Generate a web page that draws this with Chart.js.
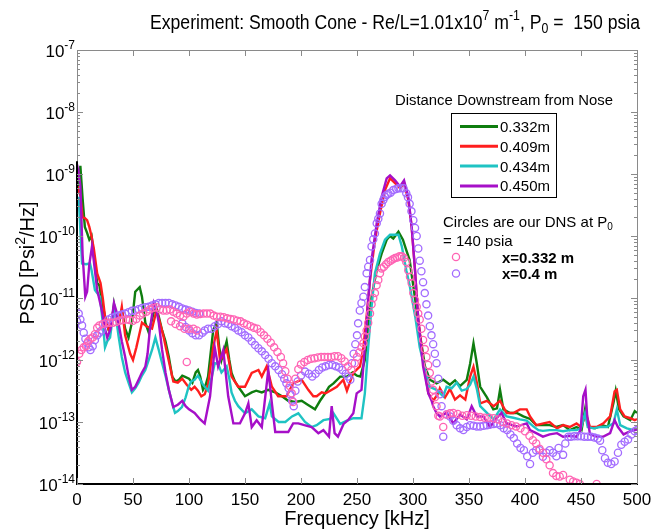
<!DOCTYPE html>
<html>
<head>
<meta charset="utf-8">
<script src="https://cdn.jsdelivr.net/npm/chart.js@4.4.1/dist/chart.umd.min.js"></script>
<style>
  html, body { margin: 0; padding: 0; background: #fff; }
  #wrap { width: 663px; height: 530px; }
</style>
</head>
<body>
<div id="wrap"><canvas id="psdChart" width="663" height="530"></canvas></div>
<script>
// ---- data (frequency in kHz, PSD in Psi^2/Hz) ----

// experiment, x = 0.332 m (green)
const f332 = [
  0, 3, 5, 7, 9, 11, 13, 15, 18, 20,
  22, 25, 28, 31, 33, 35, 37, 40, 43, 46,
  49, 52, 56, 58, 61, 64, 67, 70, 73, 76,
  79, 82, 85, 88, 91, 94, 96, 100, 103, 106,
  108, 110, 112.5, 115, 117, 121.6, 124.7, 127, 129, 133.6,
  136, 138, 141, 144, 150, 156, 160, 165, 170.6, 177,
  183, 188.6, 194.6, 200.6, 206, 212.5, 217, 221, 225, 229,
  235, 241, 246, 250, 253, 257, 260, 263, 267.6, 272,
  276.5, 279.5, 282.4, 287, 291, 294, 297, 302, 306, 310.7,
  315, 321, 327, 333, 337.5, 342, 348, 351, 354, 357,
  360, 366, 371.7, 375, 377.7, 380.7, 386.6, 392.6, 398.5, 404.5,
  410, 416, 422, 428, 434, 440, 446, 450.5, 453.6, 456.5,
  462.5, 468.5, 474, 478.9, 481, 484, 488, 494, 498, 500
];
const psd332 = [
  5.0e-10, 1.35e-9, 4.0e-10, 1.4e-10, 1.12e-10, 8.7e-11, 1.0e-10, 5.0e-11, 1.74e-11, 1.6e-11,
  9.3e-12, 5.0e-12, 3.2e-12, 4.0e-12, 7.9e-12, 5.0e-12, 3.5e-12, 6.3e-12, 3.2e-12, 2.3e-12,
  4.0e-12, 1.26e-11, 1.5e-11, 1.05e-11, 4.0e-12, 2.8e-12, 4.5e-12, 7.8e-12, 5.0e-12, 3.0e-12,
  2.0e-12, 1.12e-12, 5.4e-13, 4.5e-13, 4.8e-13, 5.6e-13, 5.4e-13, 5.0e-13, 4.3e-13, 6.3e-13,
  6.9e-13, 5.4e-13, 3.3e-13, 4.0e-13, 5.4e-13, 3.0e-12, 4.0e-12, 1.6e-12, 1.0e-12, 2.0e-12,
  1.0e-12, 6.2e-13, 4.5e-13, 3.7e-13, 2.6e-13, 3.0e-13, 3.2e-13, 3.0e-13, 3.3e-13, 3.0e-13,
  2.6e-13, 2.2e-13, 2.1e-13, 2.2e-13, 1.9e-13, 1.6e-13, 2.2e-13, 2.8e-13, 3.7e-13, 4.2e-13,
  5.4e-13, 5.4e-13, 6.3e-13, 5.6e-13, 5.4e-13, 1.0e-12, 3.5e-12, 1.05e-11, 2.8e-11, 5.2e-11,
  8.7e-11, 1.0e-10, 9.1e-11, 1.17e-10, 8.7e-11, 5.9e-11, 4.1e-11, 9.3e-12, 2.7e-12, 7.9e-13,
  4.8e-13, 4.2e-13, 4.8e-13, 4.0e-13, 4.7e-13, 3.8e-13, 4.8e-13, 8.7e-13, 1.86e-12, 8.7e-13,
  3.7e-13, 2.5e-13, 1.6e-13, 1.66e-13, 3.3e-13, 1.6e-13, 1.4e-13, 1.4e-13, 1.23e-13, 1.12e-13,
  8.9e-14, 8.9e-14, 8.9e-14, 8.3e-14, 8.9e-14, 7.4e-14, 8.3e-14, 7.4e-14, 1.6e-13, 8.3e-14,
  7.9e-14, 8.9e-14, 8.3e-14, 2.0e-13, 3.2e-13, 1.6e-13, 1.23e-13, 1.07e-13, 1.5e-13, 1.4e-13
];

// experiment, x = 0.409 m (red)
const f409 = [
  0.5, 3, 5, 7, 9, 11, 13, 15, 18, 21,
  23, 25, 28, 31, 33, 35, 37, 40, 43, 47.5,
  50, 53, 55, 58, 62, 67, 71, 74, 77, 80,
  83, 86, 90, 94, 98, 102, 105, 108, 111, 114,
  117, 121.6, 124.7, 127.7, 130, 133.6, 136, 138, 144, 150,
  156, 162, 165, 169.4, 174, 179.6, 187, 193, 200.6, 206.5,
  211, 214, 218.5, 222, 226, 232, 237.8, 241, 246.7, 252.7,
  255.7, 258.6, 261.6, 266, 270.5, 275, 279.5, 284, 288.4, 292,
  295.8, 298.8, 301.8, 304.7, 309, 313.7, 318, 322.6, 324, 328.6,
  333, 337.5, 342, 346.7, 351, 354, 357, 360, 366, 372,
  377.7, 383.6, 389.6, 395.5, 401.5, 404.5, 410, 416.5, 422, 428.6,
  434, 440, 446, 450, 454.5, 458, 464, 470, 476, 480,
  482, 485, 489, 494, 498, 500
];
const psd409 = [
  6.3e-10, 4.5e-10, 2.0e-10, 1.95e-10, 1.8e-10, 1.4e-10, 9.8e-11, 6.3e-11, 2.5e-11, 1.74e-11,
  1.0e-11, 5.0e-12, 3.2e-12, 4.5e-12, 7.1e-12, 4.5e-12, 3.5e-12, 7.2e-12, 2.5e-12, 1.26e-12,
  1.0e-12, 1.6e-12, 2.3e-12, 4.0e-12, 3.5e-12, 3.2e-12, 6.3e-12, 4.0e-12, 2.5e-12, 1.4e-12,
  7.9e-13, 4.5e-13, 4.3e-13, 5.0e-13, 4.0e-13, 3.3e-13, 3.7e-13, 3.2e-13, 2.6e-13, 2.8e-13,
  4.0e-13, 1.6e-12, 3.0e-12, 1.0e-12, 1.12e-12, 1.5e-12, 8.9e-13, 5.4e-13, 3.7e-13, 3.7e-13,
  6.2e-13, 6.9e-13, 5.4e-13, 7.9e-13, 3.7e-13, 2.6e-13, 2.6e-13, 4.2e-13, 4.8e-13, 3.3e-13,
  2.6e-13, 2.6e-13, 3.0e-13, 2.9e-13, 3.2e-13, 3.7e-13, 4.8e-13, 3.2e-13, 6.2e-13, 7.9e-13,
  1.6e-12, 5.0e-12, 1.95e-11, 8.7e-11, 2.3e-10, 5.5e-10, 8.5e-10, 7.1e-10, 5.9e-10, 7.1e-10,
  3.8e-10, 1.4e-10, 2.8e-11, 4.5e-12, 1.0e-12, 2.9e-13, 2.2e-13, 2.9e-13, 3.5e-13, 2.5e-13,
  3.4e-13, 2.3e-13, 2.7e-13, 2.3e-13, 5.4e-13, 7.8e-13, 4.3e-13, 2.0e-13, 2.2e-13, 1.8e-13,
  2.2e-13, 1.4e-13, 1.4e-13, 1.6e-13, 1.6e-13, 1.23e-13, 8.9e-14, 9.5e-14, 1.0e-13, 7.9e-14,
  8.9e-14, 8.3e-14, 9.5e-14, 8.3e-14, 1.38e-13, 8.3e-14, 8.3e-14, 9.5e-14, 1.23e-13, 3.1e-13,
  3.3e-13, 1.6e-13, 1.23e-13, 1.15e-13, 1.07e-13, 1.12e-13
];

// experiment, x = 0.434 m (cyan)
const f434 = [
  1.5, 4.5, 8, 11.6, 13, 16, 20.5, 23, 25, 27,
  29.5, 32, 34, 37, 40, 43, 46, 49, 52, 55,
  58, 61, 64, 67, 70, 73, 76, 79, 82, 85,
  87.5, 90, 93.7, 97, 99.7, 102, 105, 108, 112.5, 117,
  120, 123, 126, 129, 133.6, 136, 138, 141, 144, 150,
  156, 162, 168, 172, 174, 180, 186, 192, 197.6, 203.6,
  209.5, 214, 220, 226, 229, 235, 241, 246.7, 254, 257,
  260, 263, 266, 270.5, 275, 279.5, 284, 287, 290, 294,
  297, 302, 306, 310.7, 315, 321, 327, 330, 334.5, 339,
  343.5, 348, 351, 354, 357, 360, 366, 372, 377.7, 383.6,
  389.6, 395.5, 401.5, 407.4, 412, 416, 422, 428, 434, 440,
  446, 450, 453.6, 456, 461, 467, 473, 479, 482, 485,
  491, 497, 500
];
const psd434 = [
  4.3e-10, 3.6e-11, 3.5e-11, 3.6e-11, 2.8e-11, 1.35e-11, 1.05e-11, 4.0e-12, 1.6e-12, 2.0e-12,
  2.3e-12, 5.0e-12, 6.3e-12, 2.5e-12, 1.12e-12, 6.3e-13, 4.3e-13, 3.0e-13, 3.5e-13, 4.3e-13,
  5.6e-13, 6.9e-13, 1.0e-12, 1.45e-12, 2.3e-12, 1.45e-12, 8.9e-13, 5.6e-13, 3.3e-13, 2.0e-13,
  1.4e-13, 1.5e-13, 1.74e-13, 2.5e-13, 3.7e-13, 4.5e-13, 4.8e-13, 5.6e-13, 4.0e-13, 3.2e-13,
  5.0e-13, 8.9e-13, 8.7e-13, 6.3e-13, 7.9e-13, 5.0e-13, 3.0e-13, 2.2e-13, 1.8e-13, 1.38e-13,
  1.6e-13, 1.23e-13, 1.15e-13, 2.0e-13, 1.23e-13, 1.0e-13, 1.0e-13, 1.23e-13, 1.38e-13, 1.0e-13,
  8.3e-14, 8.9e-14, 1.07e-13, 1.12e-13, 1.38e-13, 9.3e-14, 1.05e-13, 1.15e-13, 1.15e-13, 2.9e-13,
  1.6e-12, 7.2e-12, 2.5e-11, 5.2e-11, 8.7e-11, 1.05e-10, 1.05e-10, 1.05e-10, 6.8e-11, 2.8e-11,
  1.6e-11, 5.0e-12, 1.6e-12, 7.1e-13, 3.7e-13, 3.3e-13, 2.6e-13, 3.7e-13, 3.5e-13, 4.3e-13,
  3.2e-13, 3.4e-13, 4.0e-13, 5.4e-13, 3.4e-13, 1.8e-13, 1.4e-13, 1.1e-13, 1.6e-13, 1.23e-13,
  1.17e-13, 1.1e-13, 1.05e-13, 8.5e-14, 7.4e-14, 7.2e-14, 7.4e-14, 7.4e-14, 7.1e-14, 7.4e-14,
  7.4e-14, 7.9e-14, 1.38e-13, 8.3e-14, 7.9e-14, 8.3e-14, 8.3e-14, 9.5e-14, 1.6e-13, 8.9e-14,
  7.9e-14, 7.4e-14, 7.6e-14
];

// experiment, x = 0.450 m (purple)
const f450 = [
  0.5, 1.5, 3, 5, 7.4, 9, 11, 13.4, 15, 18,
  22, 25, 27, 30, 33, 35, 37, 40, 43, 46,
  49, 52, 55, 58, 61, 63, 65, 68.5, 71, 73,
  76, 79, 82, 86, 90, 94, 97, 100, 105, 110,
  114, 118.8, 123, 126, 130.6, 135, 139.6, 145.5, 150, 153,
  156, 160.4, 165, 170.8, 174, 177, 182, 188.6, 193, 197.6,
  203, 209.5, 215.5, 220, 225, 227.4, 230, 233, 238, 242,
  246.7, 249.7, 254, 257, 260, 263, 267.6, 272, 276.5, 279.5,
  284, 288.4, 292, 295.8, 298.8, 301.8, 304.7, 309, 313.7, 316.6,
  318, 321, 324, 330, 336, 342, 348, 352.4, 357, 363,
  368.8, 374, 379, 383.6, 392.6, 401.5, 404.5, 410, 416, 422,
  428.6, 434, 440, 446, 449.6, 452, 454, 455.5, 458, 464,
  470, 476, 480, 483, 488, 494, 498, 500
];
const psd450 = [
  7.9e-10, 1.05e-9, 6.3e-10, 5.0e-11, 1.05e-11, 1.26e-11, 3.5e-11, 6.8e-11, 4.0e-11, 1.35e-11,
  6.5e-12, 3.2e-12, 2.3e-12, 3.2e-12, 8.3e-12, 6.3e-12, 4.0e-12, 2.0e-12, 1.12e-12, 5.6e-13,
  3.3e-13, 3.7e-13, 4.8e-13, 6.3e-13, 7.8e-13, 1.26e-12, 3.0e-12, 8.3e-12, 6.3e-12, 4.0e-12,
  1.45e-12, 6.3e-13, 3.3e-13, 1.74e-13, 1.9e-13, 2.2e-13, 1.8e-13, 1.6e-13, 1.4e-13, 1.1e-13,
  9.5e-14, 2.6e-13, 1.6e-12, 7.9e-13, 1.45e-12, 2.6e-13, 9.5e-14, 9.5e-14, 1.38e-13, 2.0e-13,
  8.3e-14, 1.07e-13, 8.3e-14, 6.9e-13, 2.0e-13, 6.9e-14, 6.9e-14, 6.9e-14, 9.5e-14, 9.5e-14,
  8.9e-14, 8.3e-14, 6.6e-14, 7.4e-14, 5.8e-14, 1.8e-13, 6.6e-14, 5.8e-14, 9.3e-14, 1.07e-13,
  1.38e-13, 2.9e-13, 3.3e-13, 1.6e-12, 9.3e-12, 4.1e-11, 1.6e-10, 4.3e-10, 8.5e-10, 9.5e-10,
  7.9e-10, 6.3e-10, 7.9e-10, 4.3e-10, 1.4e-10, 2.8e-11, 4.5e-12, 7.9e-13, 2.9e-13, 2.2e-13,
  1.8e-13, 1.4e-13, 1.23e-13, 1.4e-13, 9.5e-14, 1.32e-13, 1.1e-13, 1.8e-13, 1.23e-13, 1.23e-13,
  8.3e-14, 1.12e-13, 1.4e-13, 9.5e-14, 8.5e-14, 9.5e-14, 7.4e-14, 6.6e-14, 5.8e-14, 6.3e-14,
  6.6e-14, 5.8e-14, 6.0e-14, 5.8e-14, 7.4e-14, 2.6e-13, 3.3e-13, 1.26e-13, 6.3e-14, 5.8e-14,
  5.8e-14, 6.6e-14, 1.07e-13, 8.3e-14, 6.3e-14, 7.1e-14, 7.4e-14, 7.6e-14
];

// DNS at P0 = 140 psia, x = 0.332 m (pink circles)
const dnsF332 = [
  0, 2, 4, 6, 8, 10, 12, 14, 16, 18,
  20, 23, 26, 29, 32, 35, 38, 41, 44, 47,
  50, 53, 56, 59, 62, 65, 68, 71, 74, 77,
  80, 83, 86, 89, 92, 95, 98, 101, 104, 107,
  110, 113, 116, 119, 122, 125, 128, 131, 134, 137,
  140, 143, 146, 149, 152, 155, 158, 161, 164, 167,
  170, 173, 176, 179, 182, 184, 186, 188, 190, 191.7,
  193, 195, 197.6, 200, 203, 206, 209, 212, 215, 218,
  221, 224, 227, 230, 233, 236, 239, 242, 245, 248,
  250, 252, 254, 255.7, 257, 258.6, 260, 261.6, 263, 264.5,
  266, 267.5, 269, 270.5, 272, 274, 276, 278, 280, 282,
  284, 286, 288, 290, 292, 294, 295.8, 297.3, 298.8, 300.3,
  301.8, 303.3, 304.7, 306, 307.5, 309, 310.5, 312, 313.5, 315,
  316.5, 318, 319.5, 321, 322.6, 324, 327, 330, 333, 336,
  340, 344, 348, 352, 356, 360, 364, 368, 372, 376,
  380, 384, 388, 392, 396, 400, 404, 407, 410, 413,
  416, 419, 422, 425, 428, 431, 434, 440, 443, 446,
  449, 464,
  84, 88, 92, 96, 100, 104, 107, 98
];
const dnsPsd332 = [
  9.3e-13, 1.26e-12, 1.45e-12, 1.6e-12, 1.66e-12, 2.0e-12, 2.2e-12, 2.3e-12, 2.6e-12, 3.3e-12,
  3.6e-12, 3.8e-12, 4.0e-12, 4.0e-12, 4.0e-12, 4.1e-12, 4.3e-12, 4.4e-12, 4.5e-12, 4.4e-12,
  4.3e-12, 4.6e-12, 5.2e-12, 5.6e-12, 6.0e-12, 6.5e-12, 6.9e-12, 7.1e-12, 6.6e-12, 6.3e-12,
  6.3e-12, 6.5e-12, 6.0e-12, 5.6e-12, 5.2e-12, 5.0e-12, 5.6e-12, 6.0e-12, 5.6e-12, 5.4e-12,
  5.5e-12, 5.6e-12, 5.6e-12, 5.6e-12, 5.2e-12, 5.0e-12, 5.0e-12, 4.9e-12, 4.7e-12, 4.6e-12,
  4.5e-12, 4.3e-12, 4.2e-12, 3.9e-12, 3.7e-12, 3.5e-12, 3.3e-12, 3.2e-12, 2.8e-12, 2.5e-12,
  2.2e-12, 1.9e-12, 1.6e-12, 1.35e-12, 1.12e-12, 8.9e-13, 6.6e-13, 5.0e-13, 3.8e-13, 2.9e-13,
  2.1e-13, 5.0e-13, 7.1e-13, 8.5e-13, 9.3e-13, 1.0e-12, 1.05e-12, 1.07e-12, 1.1e-12, 1.12e-12,
  1.12e-12, 1.12e-12, 1.12e-12, 1.15e-12, 1.15e-12, 1.07e-12, 9.5e-13, 7.9e-13, 6.9e-13, 8.9e-13,
  1.12e-12, 1.32e-12, 1.6e-12, 1.86e-12, 2.4e-12, 3.0e-12, 4.0e-12, 5.6e-12, 7.9e-12, 1.0e-11,
  1.2e-11, 1.6e-11, 1.95e-11, 2.5e-11, 3.0e-11, 3.2e-11, 3.5e-11, 3.8e-11, 4.0e-11, 4.2e-11,
  4.4e-11, 4.5e-11, 4.7e-11, 4.7e-11, 4.4e-11, 3.8e-11, 2.8e-11, 2.2e-11, 1.74e-11, 1.2e-11,
  9.3e-12, 7.2e-12, 5.6e-12, 4.5e-12, 3.2e-12, 2.1e-12, 1.5e-12, 1.12e-12, 8.3e-13, 6.2e-13,
  4.5e-13, 3.3e-13, 2.5e-13, 1.8e-13, 1.26e-13, 1.23e-13, 8.3e-14, 1.32e-13, 1.38e-13, 1.4e-13,
  1.35e-13, 1.26e-13, 1.29e-13, 1.26e-13, 1.23e-13, 1.2e-13, 1.17e-13, 1.17e-13, 1.15e-13, 1.1e-13,
  1.0e-13, 9.5e-14, 8.9e-14, 8.5e-14, 7.9e-14, 7.1e-14, 6.0e-14, 5.1e-14, 4.5e-14, 3.7e-14,
  3.2e-14, 2.5e-14, 2.0e-14, 1.5e-14, 1.35e-14, 1.32e-14, 1.4e-14, 1.17e-14, 1.1e-14, 1.05e-14,
  1.0e-14, 1.0e-14,
  4.2e-12, 3.8e-12, 3.5e-12, 3.2e-12, 3.2e-12, 3.2e-12, 3.0e-12, 9.3e-13
];

// DNS at P0 = 140 psia, x = 0.4 m (violet circles)
const dnsF400 = [
  0, 1.5, 3, 4.5, 6, 7.5, 9, 10.5, 12, 14,
  16, 18, 20, 22, 25, 28, 31, 34, 37, 40,
  43, 46, 49, 52, 55, 58, 61, 64, 67, 70,
  73, 76, 79, 82, 85, 88, 91, 94, 97, 100,
  103, 106, 109,
  94, 97, 100, 103, 106, 109, 112, 114, 117, 120,
  123, 126, 129, 132, 135, 138, 141, 144, 147, 150,
  153, 156, 159, 162, 165, 168, 171, 174, 177, 180,
  183, 185, 187, 189, 190.5, 192, 193.5, 195, 197, 200,
  203.6, 207, 210, 213, 216, 219, 222, 225, 228, 231,
  234, 237, 240, 242, 244, 245.5, 247, 248.5, 250, 251,
  252.5, 254, 255.7, 257, 258.6, 260, 261.6, 263, 264.5, 266,
  267.6, 269, 270.5, 272, 273.5, 275, 276.5, 278, 280, 282.4,
  285, 287, 289, 291.5, 294, 295.5, 297, 298.6, 300.3, 301.8,
  303.3, 304.7, 306, 307.5, 309, 310.5, 312, 313.5, 315, 316.5,
  318, 319.5, 321, 322.6, 324, 325.5, 327, 330, 333, 336,
  339, 342, 345, 348, 351, 354, 357, 360, 363, 366,
  369, 372, 375, 378, 381, 384, 387, 390, 393, 396,
  399, 402, 404.5, 407, 410, 413, 416, 419, 422, 425,
  428, 430, 434, 436, 438.7, 441, 444, 447, 450, 453,
  456, 459, 462, 465, 467, 469, 471.4, 474, 477, 480,
  483, 486, 489, 492, 495, 498, 500
];
const dnsPsd400 = [
  4.2e-12, 5.6e-12, 4.5e-12, 3.6e-12, 2.75e-12, 2.2e-12, 1.86e-12, 1.6e-12, 1.45e-12, 1.66e-12,
  2.1e-12, 2.5e-12, 2.75e-12, 3.0e-12, 3.8e-12, 4.5e-12, 4.8e-12, 5.0e-12, 5.2e-12, 5.4e-12,
  5.6e-12, 5.9e-12, 6.2e-12, 6.3e-12, 6.6e-12, 6.9e-12, 7.1e-12, 7.2e-12, 7.6e-12, 7.9e-12,
  8.3e-12, 8.3e-12, 8.3e-12, 8.3e-12, 7.9e-12, 7.6e-12, 7.2e-12, 6.8e-12, 6.5e-12, 6.3e-12,
  6.0e-12, 5.75e-12, 5.6e-12,
  3.9e-12, 3.4e-12, 3.0e-12, 2.7e-12, 2.5e-12, 2.5e-12, 2.75e-12, 3.0e-12, 3.2e-12, 3.2e-12,
  3.5e-12, 3.8e-12, 4.2e-12, 3.9e-12, 3.8e-12, 3.5e-12, 3.3e-12, 3.0e-12, 2.8e-12, 2.5e-12,
  2.3e-12, 2.0e-12, 1.74e-12, 1.55e-12, 1.38e-12, 1.2e-12, 1.05e-12, 8.9e-13, 7.9e-13, 6.9e-13,
  5.9e-13, 5.0e-13, 4.2e-13, 3.5e-13, 2.8e-13, 2.2e-13, 1.8e-13, 3.2e-13, 4.5e-13, 5.6e-13,
  6.5e-13, 6.0e-13, 5.4e-13, 6.0e-13, 6.9e-13, 7.6e-13, 7.9e-13, 8.3e-13, 8.3e-13, 7.9e-13,
  7.6e-13, 6.9e-13, 6.0e-13, 5.4e-13, 4.8e-13, 8.9e-13, 1.26e-12, 1.8e-12, 2.5e-12, 3.9e-12,
  6.3e-12, 8.3e-12, 1.05e-11, 1.5e-11, 2.5e-11, 3.2e-11, 4.1e-11, 6.8e-11, 8.9e-11, 1.1e-10,
  1.6e-10, 1.9e-10, 2.3e-10, 3.3e-10, 3.8e-10, 4.3e-10, 4.6e-10, 4.8e-10, 5.0e-10, 5.5e-10,
  5.75e-10, 5.9e-10, 5.9e-10, 5.9e-10, 4.9e-10, 4.2e-10, 3.3e-10, 2.5e-10, 1.8e-10, 1.35e-10,
  1.0e-10, 6.3e-11, 4.0e-11, 2.7e-11, 1.8e-11, 1.2e-11, 7.9e-12, 5.2e-12, 3.5e-12, 2.5e-12,
  1.8e-12, 1.26e-12, 8.9e-13, 5.0e-13, 2.8e-13, 1.8e-13, 5.8e-14, 1.32e-13, 1.23e-13, 1.05e-13,
  8.9e-14, 7.9e-14, 7.4e-14, 8.3e-14, 8.9e-14, 8.7e-14, 8.5e-14, 8.5e-14, 8.7e-14, 8.9e-14,
  9.1e-14, 9.3e-14, 9.5e-14, 8.9e-14, 7.9e-14, 7.4e-14, 6.3e-14, 5.5e-14, 4.5e-14, 3.8e-14,
  3.5e-14, 2.8e-14, 2.1e-14, 3.2e-14, 3.5e-14, 3.5e-14, 2.75e-14, 3.2e-14, 3.5e-14, 3.2e-14,
  2.8e-14, 3.8e-14, 2.95e-14, 4.5e-14, 5.8e-14, 5.8e-14, 5.9e-14, 5.9e-14, 5.9e-14, 5.8e-14,
  5.8e-14, 5.8e-14, 5.6e-14, 5.4e-14, 5.0e-14, 3.5e-14, 2.6e-14, 2.2e-14, 2.1e-14, 2.3e-14,
  3.2e-14, 4.3e-14, 4.8e-14, 5.2e-14, 6.3e-14, 7.1e-14, 7.4e-14
];

// axis ticks
const xTickValues = [0, 50, 100, 150, 200, 250, 300, 350, 400, 450, 500];
const yTickPowers = [-14, -13, -12, -11, -10, -9, -8, -7];

const FONT = '"Liberation Sans", Arial, sans-serif';

const pairs = (xs, ys) => xs.map((x, i) => ({ x: x, y: ys[i] }));

function lineSet(label, xs, ys, color, order) {
    return {
        label: label,
        data: pairs(xs, ys),
        showLine: true,
        borderColor: color,
        backgroundColor: color,
        borderWidth: 2.4,
        pointRadius: 0,
        tension: 0,
        order: order
    };
}

function circleSet(label, xs, ys, color) {
    return {
        label: label,
        data: pairs(xs, ys),
        showLine: false,
        borderColor: color,
        backgroundColor: 'rgba(0,0,0,0)',
        pointRadius: 3.6,
        pointBorderWidth: 1.3,
        pointStyle: 'circle',
        order: 0,
        isDns: true
    };
}

// text with super/subscripts: parts = [[text, ''|'^'|'_'], ...]
function drawRich(ctx, parts, x, y, size, opts = {}) {
    const weight = opts.bold ? 'bold ' : '';
    const small = Math.round(size * 0.68);
    const setFont = kind => { ctx.font = weight + (kind ? small : size) + 'px ' + FONT; };
    let total = 0;
    parts.forEach(([t, kind]) => { setFont(kind); total += ctx.measureText(t).width; });
    const sx = opts.width ? opts.width / total : 1;
    let start = x;
    if (opts.align === 'center') start = x - total * sx / 2;
    if (opts.align === 'right') start = x - total * sx;
    ctx.save();
    ctx.translate(start, y);
    ctx.scale(sx, 1);
    ctx.textAlign = 'left';
    ctx.textBaseline = 'alphabetic';
    ctx.fillStyle = opts.color || '#000';
    let cx = 0;
    parts.forEach(([t, kind]) => {
        setFont(kind);
        const dy = kind === '^' ? -size * 0.45 : kind === '_' ? size * 0.22 : 0;
        ctx.fillText(t, cx, dy);
        cx += ctx.measureText(t).width;
    });
    ctx.restore();
}

const decorPlugin = {
    id: 'decor',
    beforeDraw(chart) {
        const ctx = chart.ctx;
        ctx.save();
        ctx.fillStyle = '#fff';
        ctx.fillRect(0, 0, chart.width, chart.height);
        ctx.restore();
    },
    afterDraw(chart) {
        const ctx = chart.ctx;
        const area = chart.chartArea;
        const xs = chart.scales.x;
        const ys = chart.scales.y;
        ctx.save();

        // frame
        ctx.strokeStyle = '#8a8a8a';
        ctx.lineWidth = 1;
        ctx.beginPath();
        ctx.moveTo(area.left + 0.5, area.bottom);
        ctx.lineTo(area.left + 0.5, area.top + 0.5);
        ctx.lineTo(area.right + 0.5, area.top + 0.5);
        ctx.lineTo(area.right + 0.5, area.bottom);
        ctx.stroke();

        ctx.strokeStyle = '#000';
        ctx.lineWidth = 2;
        ctx.beginPath();
        ctx.moveTo(area.left, ys.getPixelForValue(1.6e-9));
        ctx.lineTo(area.left, area.bottom);
        ctx.lineTo(area.right + 1, area.bottom);
        ctx.stroke();

        // ticks
        ctx.strokeStyle = '#8a8a8a';
        ctx.lineWidth = 1;
        ctx.beginPath();
        xTickValues.forEach(v => {
            const px = Math.round(xs.getPixelForValue(v)) + 0.5;
            ctx.moveTo(px, area.bottom);
            ctx.lineTo(px, area.bottom - 6);
            ctx.moveTo(px, area.top);
            ctx.lineTo(px, area.top + 6);
        });
        yTickPowers.forEach(p => {
            const py = Math.round(ys.getPixelForValue(Math.pow(10, p))) + 0.5;
            ctx.moveTo(area.left, py);
            ctx.lineTo(area.left + 6, py);
            ctx.moveTo(area.right, py);
            ctx.lineTo(area.right - 6, py);
            if (p < -7) {
                for (let m = 2; m <= 9; m++) {
                    const pm = Math.round(ys.getPixelForValue(m * Math.pow(10, p))) + 0.5;
                    ctx.moveTo(area.left, pm);
                    ctx.lineTo(area.left + 3, pm);
                    ctx.moveTo(area.right, pm);
                    ctx.lineTo(area.right - 3, pm);
                }
            }
        });
        ctx.stroke();

        // tick labels
        ctx.fillStyle = '#000';
        ctx.font = '17px ' + FONT;
        ctx.textAlign = 'center';
        ctx.textBaseline = 'alphabetic';
        xTickValues.forEach(v => {
            ctx.fillText(String(v), xs.getPixelForValue(v), 505);
        });
        yTickPowers.forEach(p => {
            const py = ys.getPixelForValue(Math.pow(10, p));
            drawRich(ctx, [['10', ''], [String(p), '^']], 75, py + 7, 17, { align: 'right' });
        });

        // axis titles
        ctx.font = '20px ' + FONT;
        ctx.textAlign = 'center';
        ctx.fillText('Frequency [kHz]', 357, 525);
        ctx.save();
        ctx.translate(34, 263);
        ctx.rotate(-Math.PI / 2);
        drawRich(ctx, [['PSD [Psi', ''], ['2', '^'], ['/Hz]', '']], 0, 0, 20, { align: 'center', width: 123 });
        ctx.restore();

        // title
        drawRich(ctx, [
            ['Experiment: Smooth Cone - Re/L=1.01x10', ''], ['7', '^'],
            [' m', ''], ['-1', '^'], [', P', ''], ['0', '_'], [' =  150 psia', '']
        ], 395, 29, 20, { align: 'center', width: 490 });

        // legend for measured lines
        drawRich(ctx, [['Distance Downstream from Nose', '']], 504, 105, 14, { align: 'center', width: 218 });
        ctx.strokeStyle = '#000';
        ctx.lineWidth = 1;
        ctx.strokeRect(451.5, 113.5, 105, 84);
        const lines = chart.data.datasets.filter(d => !d.isDns);
        lines.forEach((d, i) => {
            const ry = 126.5 + i * 19.8;
            ctx.strokeStyle = d.borderColor;
            ctx.lineWidth = 3;
            ctx.beginPath();
            ctx.moveTo(460, ry);
            ctx.lineTo(498, ry);
            ctx.stroke();
            drawRich(ctx, [[d.label, '']], 500, ry + 5.5, 15);
        });

        // legend for DNS circles
        drawRich(ctx, [['Circles are our DNS at P', ''], ['0', '_']], 443, 227, 15);
        drawRich(ctx, [['= 140 psia', '']], 443, 246, 15);
        const dns = chart.data.datasets.filter(d => d.isDns);
        dns.forEach((d, i) => {
            const ry = 257 + i * 16.5;
            ctx.strokeStyle = d.borderColor;
            ctx.lineWidth = 1.3;
            ctx.beginPath();
            ctx.arc(456, ry, 3.6, 0, Math.PI * 2);
            ctx.stroke();
            drawRich(ctx, [[d.label, '']], 502, ry + 5.5, 15, { bold: true });
        });

        ctx.restore();
    }
};

const ctxEl = document.getElementById('psdChart');
new Chart(ctxEl, {
    type: 'scatter',
    data: {
        datasets: [
            lineSet('0.332m', f332, psd332, '#0f7d0f', 4),
            lineSet('0.409m', f409, psd409, '#ff1e1e', 3),
            lineSet('0.434m', f434, psd434, '#1fc3c3', 2),
            lineSet('0.450m', f450, psd450, '#a60fc8', 1),
            circleSet('x=0.332 m', dnsF332, dnsPsd332, '#ff64b4'),
            circleSet('x=0.4 m', dnsF400, dnsPsd400, '#a36cff')
        ]
    },
    options: {
        responsive: false,
        animation: false,
        devicePixelRatio: 1,
        layout: { padding: { left: 77, right: 26, top: 50, bottom: 46 } },
        scales: {
            x: { type: 'linear', min: 0, max: 500, display: false },
            y: { type: 'logarithmic', min: 1e-14, max: 1e-7, display: false }
        },
        plugins: {
            legend: { display: false },
            title: { display: false },
            tooltip: { enabled: false }
        }
    },
    plugins: [decorPlugin]
});
</script>
</body>
</html>
